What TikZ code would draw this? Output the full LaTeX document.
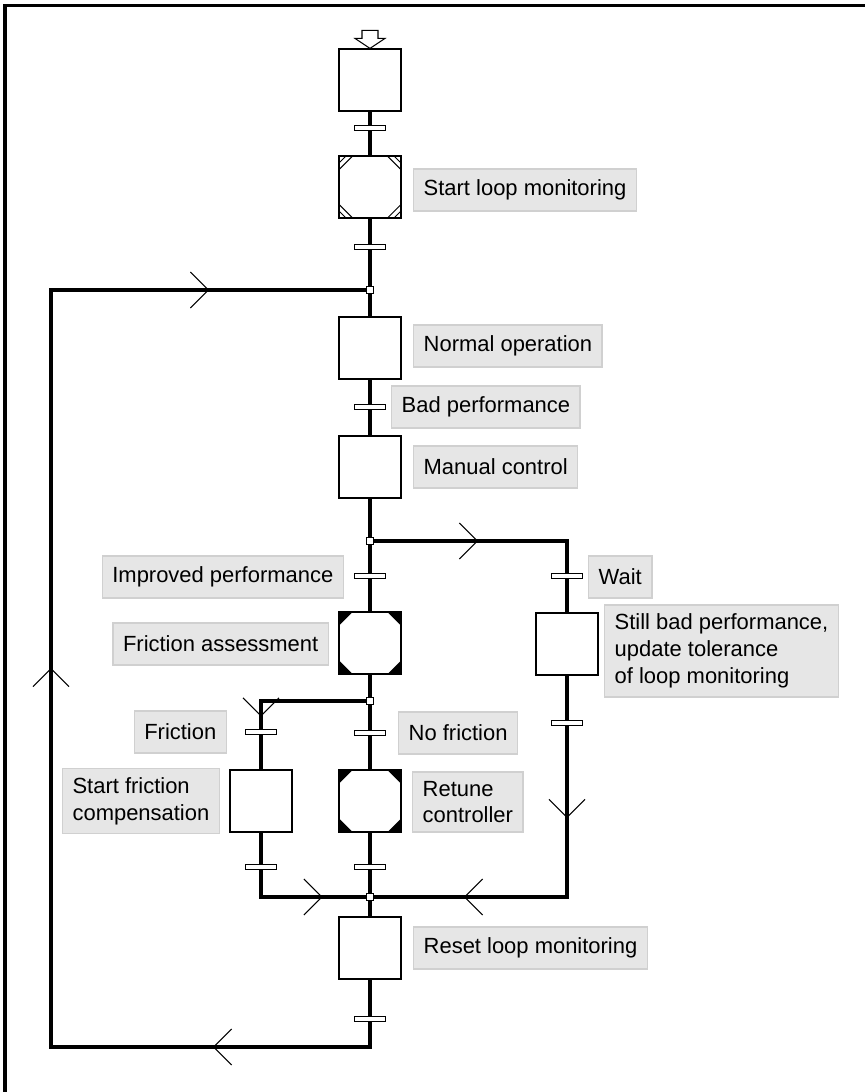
\documentclass[tikz,border=0pt]{standalone}
\usepackage{fontspec}
\setmainfont{Liberation Sans}
\usepackage{xcolor}
\definecolor{notefill}{HTML}{E6E6E6}
\definecolor{noteline}{HTML}{D0D0D0}
\usepackage{tikz}
\usetikzlibrary{positioning}

\tikzset{
  chevr/.pic={\draw[line width=0.6pt] (-0.36cm,0.36cm) -- (0,0) -- (-0.36cm,-0.36cm);},
  chevl/.pic={\draw[line width=0.6pt] (0.36cm,0.36cm) -- (0,0) -- (0.36cm,-0.36cm);},
  chevu/.pic={\draw[line width=0.6pt] (-0.36cm,-0.36cm) -- (0,0) -- (0.36cm,-0.36cm);},
  chevd/.pic={\draw[line width=0.6pt] (-0.36cm,0.36cm) -- (0,0) -- (0.36cm,0.36cm);}
}

\begin{document}
\begin{tikzpicture}[x=0.02cm,y=-0.02cm,
  stepbox/.style={rectangle,draw,line width=0.7pt,fill=white,
    minimum width=1.24cm,minimum height=1.24cm,inner sep=0pt},
  actstep/.style={stepbox,path picture={
    \foreach \cn/\h/\v in {north west/1/-1,north east/-1/-1,south west/1/1,south east/-1/1}
      \fill[black] (path picture bounding box.\cn) -- ++(\h*0.27cm,0) -- ++(-\h*0.27cm,\v*0.27cm) -- cycle;}},
  initstep/.style={stepbox,path picture={
    \foreach \cn/\h/\v in {north west/1/-1,north east/-1/-1,south west/1/1,south east/-1/1}{
      \draw[black,line width=0.6pt] ([xshift=\h*0.27cm]path picture bounding box.\cn)
        -- ([yshift=\v*0.27cm]path picture bounding box.\cn);
      \draw[black,line width=0.5pt] ([xshift=\h*0.14cm]path picture bounding box.\cn)
        -- ([yshift=\v*0.14cm]path picture bounding box.\cn);}}},
  trans/.style={rectangle,draw,line width=0.6pt,fill=white,
    minimum width=0.62cm,minimum height=0.1cm,inner sep=0pt},
  junc/.style={rectangle,draw,line width=0.6pt,fill=white,minimum size=0.14cm,inner sep=0pt},
  note/.style={rectangle,draw=noteline,line width=0.8pt,fill=notefill,align=left,
    inner xsep=0.2cm,inner ysep=0.18cm,minimum height=0.84cm,
    font=\fontsize{12.5}{15.3}\selectfont},
  flow/.style={line width=2.2pt}]
  \useasboundingbox (0,0) rectangle (865,1092);
  \draw[flow] (5,1092) -- (5,5.5) -- (865,5.5);

  % steps
  \node[stepbox] (s0) at (370,80) {};
  \node[initstep] (s1) at (370,187) {};
  \node[stepbox] (s2) at (370,348) {};
  \node[stepbox] (s3) at (370,467) {};
  \node[actstep] (s4) at (370,643) {};
  \node[stepbox] (s5) at (567,644) {};
  \node[stepbox] (s6) at (261,801) {};
  \node[actstep] (s7) at (370,801) {};
  \node[stepbox] (s8) at (370,948) {};
  \draw[line width=0.6pt,fill=white] ([shift={(-8,-18)}]s0.north) -- ([shift={(8,-18)}]s0.north)
    -- ([shift={(8,-10)}]s0.north) -- ([shift={(15,-10)}]s0.north) -- (s0.north)
    -- ([shift={(-15,-10)}]s0.north) -- ([shift={(-8,-10)}]s0.north) -- cycle;

  % transitions
  \node[trans] (t0) at (370,128) {};
  \node[trans] (t1) at (370,247) {};
  \node[trans] (t2) at (370,407) {};
  \node[trans] (t3) at (370,576) {};
  \node[trans] (t4) at (567,576) {};
  \node[trans] (t5) at (567,723) {};
  \node[trans] (t6) at (261,732) {};
  \node[trans] (t7) at (370,733) {};
  \node[trans] (t8) at (261,867) {};
  \node[trans] (t9) at (370,867) {};
  \node[trans] (t10) at (370,1019) {};

  % junctions
  \node[junc] (j1) at (370,290) {};
  \node[junc] (j2) at (370,541) {};
  \node[junc] (j3) at (370,701) {};
  \node[junc] (j4) at (370,897) {};
  \coordinate (lt) at (51,290);
  \coordinate (lb) at (51,1047);
  \coordinate (rb) at (370,1047);
  \coordinate (rt) at (567,541);
  \coordinate (rbot) at (567,897);
  \coordinate (lft) at (261,701);
  \coordinate (lbot) at (261,897);

  % labels
  \node[note,anchor=west] (n1) at (413,190) {Start loop monitoring};
  \node[note,anchor=west] (n2) at (413,346) {Normal operation};
  \node[note,anchor=west] (n3) at (391,407) {Bad performance};
  \node[note,anchor=west] (n4) at (413,467) {Manual control};
  \node[note,anchor=east] (n5) at (344,577) {Improved performance};
  \node[note,anchor=west] (n6) at (588,577) {Wait};
  \node[note,anchor=east] (n7) at (329,644) {Friction assessment};
  \node[note,anchor=west] (n8) at (604,651) {Still bad performance,\\update tolerance\\of loop monitoring};
  \node[note,anchor=east] (n9) at (227,732) {Friction};
  \node[note,anchor=west] (n10) at (398,733) {No friction};
  \node[note,anchor=east] (n11) at (220,801) {Start friction\\compensation};
  \node[note,anchor=west] (n12) at (412,802) {Retune\\controller};
  \node[note,anchor=west] (n13) at (413,948) {Reset loop monitoring};

  % main line
  \draw[flow] (s0) -- (t0); \draw[flow] (t0) -- (s1); \draw[flow] (s1) -- (t1);
  \draw[flow] (t1) -- (j1); \draw[flow] (j1) -- (s2); \draw[flow] (s2) -- (t2);
  \draw[flow] (t2) -- (s3); \draw[flow] (s3) -- (j2); \draw[flow] (j2) -- (t3);
  \draw[flow] (t3) -- (s4); \draw[flow] (s4) -- (j3); \draw[flow] (j3) -- (t7);
  \draw[flow] (t7) -- (s7); \draw[flow] (s7) -- (t9); \draw[flow] (t9) -- (j4);
  \draw[flow] (j4) -- (s8); \draw[flow] (s8) -- (t10);
  % branches
  \draw[flow] (j2) -- (rt) pic[pos=0.535]{chevr} -- (t4);
  \draw[flow] (t4) -- (s5); \draw[flow] (s5) -- (t5);
  \draw[flow] (t5) -- (rbot) pic[pos=0.534]{chevd} -- (j4) pic[pos=0.53]{chevl};
  \draw[flow] (j3) -- (lft) -- (t6) pic[pos=0.53]{chevd};
  \draw[flow] (t6) -- (s6); \draw[flow] (s6) -- (t8);
  \draw[flow] (t8) -- (lbot) -- (j4) pic[pos=0.58]{chevr};
  % loop back
  \draw[flow] (t10) -- (rb) -- (lb) pic[pos=0.49]{chevl} -- (lt) pic[pos=0.5]{chevu}
    -- (j1) pic[pos=0.5]{chevr};
\end{tikzpicture}
\end{document}
